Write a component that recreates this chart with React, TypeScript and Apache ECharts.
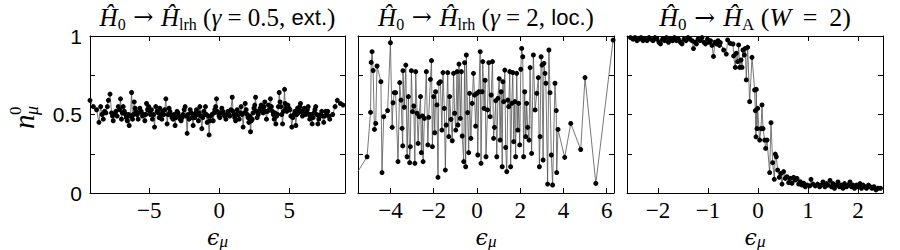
import React, { useEffect, useRef } from 'react';
import * as echarts from 'echarts';

// Panel 1: H0 -> Hlrh (gamma = 0.5, ext.)
const panel1: [number, number][] = [
  [-9.24,0.59],[-9.0,0.55],[-8.77,0.53],[-8.6,0.45],[-8.48,0.55],[-8.38,0.5],[-8.29,0.47],[-8.2,0.52],[-8.1,0.51],[-8.0,0.55],
  [-7.93,0.59],[-7.81,0.63],[-7.7,0.51],[-7.63,0.49],[-7.58,0.46],[-7.48,0.5],[-7.39,0.52],[-7.3,0.49],[-7.22,0.55],[-7.12,0.53],
  [-7.06,0.6],[-6.99,0.47],[-6.93,0.51],[-6.87,0.55],[-6.78,0.52],[-6.7,0.5],[-6.64,0.48],[-6.58,0.46],[-6.5,0.5],[-6.44,0.43],
  [-6.35,0.49],[-6.27,0.64],[-6.2,0.47],[-6.14,0.5],[-6.08,0.58],[-6.02,0.54],[-5.96,0.52],[-5.88,0.5],[-5.8,0.47],[-5.74,0.51],
  [-5.68,0.54],[-5.58,0.52],[-5.49,0.49],[-5.4,0.5],[-5.32,0.46],[-5.26,0.5],[-5.2,0.57],[-5.12,0.53],[-5.04,0.55],[-4.98,0.52],
  [-4.92,0.5],[-4.85,0.53],[-4.78,0.47],[-4.7,0.5],[-4.63,0.42],[-4.54,0.55],[-4.45,0.52],[-4.37,0.51],[-4.3,0.48],[-4.25,0.54],
  [-4.18,0.5],[-4.11,0.47],[-4.04,0.52],[-3.97,0.5],[-3.9,0.53],[-3.82,0.6],[-3.73,0.44],[-3.66,0.5],[-3.59,0.54],[-3.53,0.52],
  [-3.47,0.5],[-3.38,0.48],[-3.3,0.47],[-3.23,0.5],[-3.16,0.43],[-3.09,0.48],[-3.02,0.52],[-2.95,0.51],[-2.87,0.49],[-2.8,0.47],
  [-2.73,0.46],[-2.66,0.48],[-2.59,0.5],[-2.51,0.53],[-2.44,0.55],[-2.37,0.49],[-2.3,0.38],[-2.23,0.5],[-2.16,0.47],[-2.08,0.53],
  [-2.01,0.51],[-1.94,0.48],[-1.87,0.43],[-1.81,0.5],[-1.75,0.48],[-1.69,0.51],[-1.63,0.53],[-1.56,0.5],[-1.49,0.46],[-1.44,0.51],
  [-1.39,0.55],[-1.32,0.49],[-1.25,0.41],[-1.18,0.48],[-1.11,0.52],[-1.05,0.5],[-0.99,0.55],[-0.93,0.5],[-0.87,0.45],[-0.8,0.49],
  [-0.73,0.37],[-0.67,0.46],[-0.61,0.49],[-0.52,0.5],[-0.44,0.46],[-0.38,0.51],[-0.32,0.53],[-0.26,0.55],[-0.2,0.6],[-0.14,0.52],
  [-0.08,0.51],[-0.02,0.49],[0.04,0.48],[0.11,0.51],[0.18,0.54],[0.25,0.52],[0.32,0.5],[0.39,0.49],[0.47,0.47],[0.54,0.5],
  [0.61,0.52],[0.68,0.5],[0.75,0.49],[0.83,0.53],[0.92,0.61],[0.98,0.52],[1.04,0.5],[1.1,0.48],[1.16,0.46],[1.22,0.5],
  [1.28,0.53],[1.35,0.5],[1.42,0.47],[1.49,0.51],[1.56,0.55],[1.63,0.5],[1.7,0.42],[1.77,0.51],[1.85,0.57],[1.92,0.53],
  [1.99,0.5],[2.05,0.48],[2.11,0.45],[2.17,0.49],[2.23,0.39],[2.29,0.46],[2.35,0.47],[2.41,0.51],[2.47,0.54],[2.53,0.56],
  [2.59,0.61],[2.65,0.52],[2.7,0.48],[2.78,0.5],[2.85,0.52],[2.92,0.54],[2.99,0.56],[3.06,0.53],[3.13,0.51],[3.19,0.55],
  [3.25,0.58],[3.31,0.52],[3.37,0.47],[3.44,0.52],[3.51,0.56],[3.58,0.53],[3.65,0.6],[3.72,0.55],[3.8,0.52],[3.86,0.5],
  [3.92,0.47],[3.98,0.51],[4.04,0.44],[4.1,0.49],[4.16,0.5],[4.22,0.55],[4.28,0.64],[4.34,0.58],[4.4,0.55],[4.46,0.5],
  [4.52,0.44],[4.58,0.52],[4.66,0.66],[4.7,0.57],[4.75,0.54],[4.82,0.52],[4.9,0.56],[4.97,0.54],[5.04,0.53],[5.11,0.49],
  [5.18,0.42],[5.25,0.48],[5.33,0.5],[5.4,0.52],[5.47,0.43],[5.53,0.5],[5.59,0.54],[5.65,0.51],[5.7,0.52],[5.75,0.55],
  [5.8,0.57],[5.87,0.52],[5.94,0.49],[6.01,0.52],[6.08,0.54],[6.15,0.5],[6.23,0.51],[6.29,0.53],[6.35,0.55],[6.4,0.5],
  [6.46,0.47],[6.55,0.5],[6.63,0.44],[6.7,0.48],[6.77,0.51],[6.83,0.53],[6.89,0.55],[6.96,0.5],[7.04,0.44],[7.11,0.47],
  [7.18,0.49],[7.25,0.5],[7.32,0.52],[7.39,0.49],[7.46,0.45],[7.53,0.49],[7.6,0.52],[7.67,0.5],[7.75,0.52],[7.82,0.49],
  [7.89,0.47],[8.1,0.5],[8.27,0.55],[8.43,0.59],[8.65,0.57],[8.84,0.56]
];

// Panel 2: H0 -> Hlrh (gamma = 2, loc.)
const panel2: [number, number][] = [
  [-5.51,0.136],[-5.08,0.231],[-4.92,0.514],[-4.89,0.832],[-4.85,0.9],[-4.8,0.78],[-4.74,0.405],[-4.68,0.443],[-4.62,0.809],[-4.44,0.709],
  [-4.39,0.13],[-4.31,0.486],[-4.13,0.525],[-4.0,0.957],[-3.92,0.418],[-3.88,0.575],[-3.82,0.639],[-3.76,0.639],[-3.65,0.2],[-3.57,0.703],
  [-3.51,0.592],[-3.46,0.412],[-3.43,0.3],[-3.42,0.779],[-3.36,0.546],[-3.29,0.815],[-3.23,0.231],[-3.17,0.614],[-3.11,0.193],[-3.08,0.295],
  [-3.03,0.779],[-2.98,0.518],[-2.92,0.554],[-2.87,0.189],[-2.83,0.773],[-2.77,0.508],[-2.72,0.316],[-2.67,0.486],[-2.61,0.614],[-2.57,0.257],
  [-2.52,0.491],[-2.49,0.2],[-2.43,0.475],[-2.34,0.773],[-2.27,0.306],[-2.23,0.482],[-2.15,0.724],[-2.1,0.843],[-2.06,0.295],[-2.0,0.614],
  [-1.95,0.384],[-1.91,0.645],[-1.85,0.561],[-1.8,0.1],[-1.76,0.699],[-1.69,0.709],[-1.62,0.401],[-1.57,0.767],[-1.51,0.539],[-1.46,0.146],
  [-1.42,0.433],[-1.35,0.767],[-1.3,0.359],[-1.26,0.614],[-1.2,0.469],[-1.14,0.333],[-1.08,0.762],[-1.03,0.508],[-0.98,0.401],[-0.92,0.773],
  [-0.88,0.433],[-0.83,0.821],[-0.77,0.475],[-0.72,0.773],[-0.68,0.363],[-0.61,0.2],[-0.57,0.83],[-0.52,0.167],[-0.49,0.879],[-0.43,0.512],
  [-0.38,0.257],[-0.34,0.635],[-0.28,0.348],[-0.22,0.571],[-0.16,0.762],[-0.11,0.624],[-0.06,0.426],[0.0,0.635],[0.04,0.242],[0.09,0.645],
  [0.15,0.9],[0.19,0.189],[0.24,0.645],[0.27,0.837],[0.33,0.539],[0.38,0.718],[0.42,0.231],[0.49,0.529],[0.55,0.83],[0.61,0.486],
  [0.66,0.624],[0.72,0.837],[0.77,0.348],[0.81,0.418],[0.87,0.588],[0.92,0.231],[0.97,0.603],[1.03,0.728],[1.07,0.337],[1.12,0.645],
  [1.17,0.167],[1.2,0.709],[1.24,0.582],[1.29,0.783],[1.33,0.29],[1.38,0.136],[1.43,0.592],[1.47,0.55],[1.52,0.773],[1.56,0.167],
  [1.61,0.571],[1.66,0.767],[1.7,0.327],[1.75,0.582],[1.79,0.231],[1.84,0.762],[1.89,0.401],[1.93,0.571],[1.98,0.306],[2.03,0.788],
  [2.07,0.921],[2.12,0.868],[2.16,0.231],[2.21,0.645],[2.26,0.359],[2.3,0.571],[2.35,0.418],[2.41,0.337],[2.46,0.799],[2.53,0.252],
  [2.61,0.879],[2.69,0.529],[2.77,0.635],[2.84,0.735],[2.89,0.167],[2.92,0.359],[2.97,0.868],[3.01,0.815],[3.06,0.21],[3.1,0.826],
  [3.15,0.762],[3.19,0.699],[3.27,0.057],[3.33,0.911],[3.38,0.639],[3.44,0.242],[3.5,0.051],[3.61,0.699],[3.67,0.525],[3.69,0.13],
  [3.75,0.405],[4.06,0.227],[4.34,0.443],[4.8,0.277],[5.0,0.735],[5.5,0.061],[6.3,0.974]
];

// Panel 3: H0 -> HA (W = 2)
const panel3: [number, number][] = [
  [-2.55,0.99],[-2.5,0.98],[-2.46,0.99],[-2.42,0.97],[-2.38,0.98],[-2.34,0.99],[-2.3,0.97],[-2.26,0.98],[-2.22,0.97],[-2.18,0.99],
  [-2.14,0.98],[-2.1,0.97],[-2.06,0.99],[-2.02,0.98],[-1.98,0.96],[-1.95,0.95],[-1.91,0.98],[-1.87,0.97],[-1.83,0.99],[-1.79,0.96],
  [-1.75,0.98],[-1.71,0.97],[-1.67,0.99],[-1.63,0.97],[-1.59,0.98],[-1.55,0.96],[-1.52,0.95],[-1.48,0.98],[-1.44,0.97],[-1.4,0.99],
  [-1.36,0.98],[-1.32,0.97],[-1.29,0.92],[-1.26,0.96],[-1.23,0.95],[-1.2,0.98],[-1.16,0.97],[-1.12,0.99],[-1.08,0.96],[-1.05,0.95],
  [-1.01,0.98],[-0.98,0.96],[-0.95,0.97],[-0.92,0.94],[-0.89,0.87],[-0.86,0.96],[-0.83,0.95],[-0.8,0.97],[-0.77,0.94],[-0.754,0.958],
  [-0.687,0.911],[-0.634,0.885],[-0.607,0.975],[-0.554,0.953],[-0.5,0.949],[-0.487,0.873],[-0.454,0.8],[-0.434,0.89],[-0.407,0.837],[-0.387,0.943],
  [-0.367,0.8],[-0.34,0.847],[-0.32,0.8],[-0.3,0.911],[-0.274,0.879],[-0.254,0.921],[-0.234,0.72],[-0.207,0.928],[-0.167,0.582],[-0.12,0.864],
  [-0.067,0.656],[-0.054,0.525],[-0.04,0.358],[-0.034,0.66],[-0.02,0.41],[-0.007,0.539],[0.033,0.337],[0.06,0.41],[0.08,0.561],[0.1,0.41],
  [0.133,0.337],[0.153,0.284],[0.18,0.337],[0.233,0.13],[0.26,0.448],[0.293,0.193],[0.326,0.087],[0.346,0.248],[0.366,0.231],[0.393,0.146],
  [0.426,0.1],[0.46,0.125],[0.48,0.057],[0.513,0.136],[0.546,0.093],[0.58,0.104],[0.613,0.066],[0.646,0.093],[0.68,0.062],[0.713,0.1],
  [0.746,0.083],[0.78,0.093],[0.813,0.057],[0.846,0.072],[0.88,0.051],[0.913,0.062],[0.946,0.04],[0.98,0.051],[1.033,0.045],[1.06,0.087],
  [1.1,0.057],[1.146,0.045],[1.193,0.057],[1.233,0.04],[1.27,0.05],[1.3,0.07],[1.34,0.04],[1.37,0.06],[1.4,0.05],[1.44,0.08],
  [1.47,0.04],[1.5,0.06],[1.53,0.03],[1.57,0.05],[1.6,0.07],[1.63,0.04],[1.67,0.05],[1.7,0.03],[1.73,0.06],[1.77,0.04],
  [1.8,0.05],[1.84,0.07],[1.87,0.04],[1.9,0.05],[1.93,0.03],[1.97,0.05],[2.0,0.04],[2.04,0.06],[2.07,0.03],[2.1,0.05],
  [2.14,0.04],[2.17,0.03],[2.21,0.05],[2.24,0.04],[2.28,0.03],[2.32,0.04],[2.36,0.02],[2.4,0.03],[2.45,0.03]
];

const xRanges: [number, number][] = [[-9.24, 8.98], [-5.5, 6.34], [-2.62, 2.5]];
const xTicks: number[][] = [[-5, 0, 5], [-4, -2, 0, 2, 4, 6], [-2, -1, 0, 1, 2]];
const yTicks = [0, 0.25, 0.5, 0.75, 1];
const yTickLabels = [0, 0.5, 1];

const SERIF = 'Liberation Serif';
const SANS = 'Liberation Sans';

const titles = [
  '{m|Ĥ}{s|0}{a| → }{m|Ĥ}{s|lrh}{r| (}{m|γ}{r| = 0.5, }{t|ext.}{r|)}',
  '{m|Ĥ}{s|0}{a| → }{m|Ĥ}{s|lrh}{r| (}{m|γ}{r| = 2, }{t|loc.}{r|)}',
  '{M|Ĥ}{S|0}{A| → }{M|Ĥ}{S|A}{R| (}{M|W}{R| \u2009=\u2009 2)}',
];

const grids = [
  { left: 90, top: 36, width: 255, height: 157 },
  { left: 358, top: 36, width: 256, height: 157 },
  { left: 627, top: 36, width: 256, height: 157 },
];

const fmt = (v: number) => (v < 0 ? '\u2212' + String(-v) : String(v));

export default function App() {
  const ref = useRef<HTMLDivElement>(null);
  useEffect(() => {
    if (!ref.current) return;
    const chart = echarts.init(ref.current, undefined, { renderer: 'svg' });
    const data = [panel1, panel2, panel3];
    const axisLine = { show: true, onZero: false, lineStyle: { color: '#000', width: 1 } };
    const xAxes: any[] = [];
    const yAxes: any[] = [];
    for (let i = 0; i < 3; i++) {
      xAxes.push({
        type: 'value', gridIndex: i, position: 'bottom', min: xRanges[i][0], max: xRanges[i][1],
        axisLine, splitLine: { show: false },
        axisTick: { show: true, inside: true, length: 5, customValues: xTicks[i], lineStyle: { color: '#000' } },
        axisLabel: { show: true, customValues: xTicks[i], formatter: fmt, color: '#000', fontFamily: SERIF, fontSize: 23, margin: 6 },
      });
    }
    for (let i = 0; i < 3; i++) {
      xAxes.push({
        type: 'value', gridIndex: i, position: 'top', min: xRanges[i][0], max: xRanges[i][1],
        axisLine, splitLine: { show: false },
        axisTick: { show: true, inside: true, length: 5, customValues: xTicks[i], lineStyle: { color: '#000' } },
        axisLabel: { show: false },
      });
    }
    for (let i = 0; i < 3; i++) {
      yAxes.push({
        type: 'value', gridIndex: i, position: 'left', min: 0, max: 1,
        axisLine, splitLine: { show: false },
        axisTick: { show: true, inside: true, length: 5, customValues: yTicks, lineStyle: { color: '#000' } },
        axisLabel: i === 0
          ? { show: true, customValues: yTickLabels, formatter: (v: number) => String(v), color: '#000', fontFamily: SANS, fontSize: 21, margin: 8, padding: [0, 0, 6, 0] }
          : { show: false },
      });
    }
    for (let i = 0; i < 3; i++) {
      yAxes.push({
        type: 'value', gridIndex: i, position: 'right', min: 0, max: 1,
        axisLine, splitLine: { show: false },
        axisTick: { show: true, inside: true, length: 5, customValues: yTicks, lineStyle: { color: '#000' } },
        axisLabel: { show: false },
      });
    }
    const rich = {
      m: { fontFamily: SERIF, fontStyle: 'italic', fontSize: 25, lineHeight: 30, color: '#000' },
      r: { fontFamily: SERIF, fontSize: 25, lineHeight: 30, color: '#000' },
      a: { fontFamily: 'DejaVu Serif', fontSize: 24, lineHeight: 30, color: '#000' },
      s: { fontFamily: SERIF, fontSize: 16, lineHeight: 16, verticalAlign: 'bottom', color: '#000' },
      t: { fontFamily: SANS, fontSize: 22, lineHeight: 30, color: '#000' },
      M: { fontFamily: SERIF, fontStyle: 'italic', fontSize: 26, lineHeight: 31, color: '#000' },
      R: { fontFamily: SERIF, fontSize: 26, lineHeight: 31, color: '#000' },
      A: { fontFamily: 'DejaVu Serif', fontSize: 25, lineHeight: 31, color: '#000' },
      S: { fontFamily: SERIF, fontSize: 17, lineHeight: 17, verticalAlign: 'bottom', color: '#000' },
    };
    const graphics: any[] = [];
    grids.forEach((g, i) => {
      graphics.push({
        type: 'text', x: g.left + g.width / 2, y: 17,
        style: { text: titles[i], rich, align: 'center', verticalAlign: 'middle' },
      });
      graphics.push({
        type: 'text', x: g.left + g.width / 2, y: 237,
        style: {
          text: '{e|ϵ}{s|μ}', align: 'center', verticalAlign: 'middle',
          rich: {
            e: { fontFamily: 'DejaVu Serif', fontStyle: 'italic', fontSize: 22, lineHeight: 26, color: '#000' },
            s: { fontFamily: SERIF, fontStyle: 'italic', fontSize: 17, lineHeight: 16, verticalAlign: 'bottom', color: '#000' },
          },
        },
      });
    });
    graphics.push({
      type: 'group', x: 24, y: 116, rotation: Math.PI / 2,
      children: [
        { type: 'text', x: -13, y: 0, style: { text: 'n', fontFamily: SERIF, fontStyle: 'italic', fontSize: 29, align: 'left', verticalAlign: 'middle', fill: '#000' } },
        { type: 'text', x: 1, y: -9, style: { text: '0', fontFamily: SERIF, fontSize: 17, align: 'left', verticalAlign: 'middle', fill: '#000' } },
        { type: 'text', x: 1, y: 8, style: { text: 'μ', fontFamily: SERIF, fontStyle: 'italic', fontSize: 18, align: 'left', verticalAlign: 'middle', fill: '#000' } },
      ],
    });
    chart.setOption({
      animation: false,
      backgroundColor: '#fff',
      grid: grids,
      xAxis: xAxes,
      yAxis: yAxes,
      graphic: graphics,
      series: data.map((d, i) => ({
        type: 'line', xAxisIndex: i, yAxisIndex: i, data: d,
        symbol: 'circle', symbolSize: 5, showSymbol: true, showAllSymbol: true,
        lineStyle: { color: '#555', width: 0.8 },
        itemStyle: { color: '#000' },
        emphasis: { disabled: true }, silent: true,
      })),
    });
    return () => chart.dispose();
  }, []);
  return <div ref={ref} style={{ position: 'fixed', left: 0, top: 0, width: 900, height: 250 }} />;
}
